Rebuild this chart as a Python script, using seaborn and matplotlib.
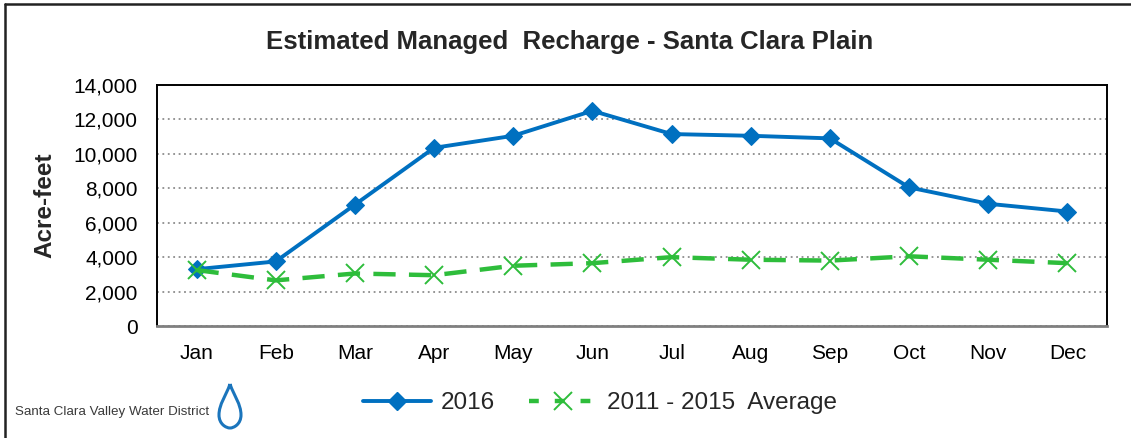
import matplotlib
matplotlib.use("Agg")
import matplotlib.pyplot as plt
from matplotlib.lines import Line2D
from matplotlib.path import Path
from matplotlib.patches import PathPatch
import numpy as np
import pandas as pd
import seaborn as sns

# Monthly managed recharge, acre-feet
months = ["Jan", "Feb", "Mar", "Apr", "May", "Jun",
          "Jul", "Aug", "Sep", "Oct", "Nov", "Dec"]
recharge_2016 = [3300, 3750, 7050, 10350, 11050, 12500,
                 11150, 11050, 10900, 8050, 7100, 6650]
recharge_avg = [3250, 2650, 3050, 2950, 3500, 3650,
                4000, 3850, 3800, 4050, 3850, 3650]
yticks = [0, 2000, 4000, 6000, 8000, 10000, 12000, 14000]

label_2016 = "2016"
label_avg = "2011 - 2015  Average"
blue = "#0070C0"
green = "#2EBD3B"

sns.set_theme(style="white")
plt.rcParams["font.family"] = ["Liberation Sans", "DejaVu Sans"]

df = pd.DataFrame({
    "idx": list(range(len(months))) * 2,
    "value": recharge_2016 + recharge_avg,
    "series": [label_2016] * len(months) + [label_avg] * len(months),
})

fig = plt.figure(figsize=(11.31, 4.38), dpi=100)
ax = fig.add_axes([157 / 1131, 1 - 326 / 438, 950 / 1131, 241 / 438])

sns.lineplot(data=df[df.series == label_2016], x="idx", y="value", ax=ax,
             color=blue, lw=2.8, marker="D", markersize=9.5,
             markeredgecolor=blue, legend=False)
sns.lineplot(data=df[df.series == label_avg], x="idx", y="value", ax=ax,
             color=green, lw=3.2, marker="x", markersize=13,
             markeredgewidth=1.4, markeredgecolor=green, legend=False)
ax.lines[1].set_dashes((5, 3))

ax.set_xlim(-0.5, len(months) - 0.5)
ax.set_ylim(0, 14000)
ax.set_xticks(range(len(months)))
ax.set_xticklabels(months)
ax.set_yticks(yticks)
ax.set_yticklabels([f"{v:,}" for v in yticks])
ax.tick_params(axis="both", length=0, labelsize=15, colors="#000000")
ax.tick_params(axis="y", pad=14)
ax.tick_params(axis="x", pad=13)
ax.set_xlabel("")
ax.set_ylabel("Acre-feet", fontsize=17.5, fontweight="bold", labelpad=12)

ax.yaxis.grid(True, linestyle=(0, (1, 2)), color="#8C8C8C", lw=1.3)
ax.set_axisbelow(True)
for side in ["left", "top", "right"]:
    ax.spines[side].set_color("#000000")
    ax.spines[side].set_linewidth(1.4)
ax.spines["bottom"].set_color("#808080")
ax.spines["bottom"].set_linewidth(2)

fig.text(570 / 1131, 1 - 42 / 438, "Estimated Managed  Recharge - Santa Clara Plain",
         ha="center", va="center", fontsize=18.5, fontweight="bold")

handles = [
    Line2D([], [], color=blue, lw=2.8, marker="D", markersize=9.5),
    Line2D([], [], color=green, lw=3.2, dashes=(2.2, 3.6), marker="x",
           markersize=13, markeredgewidth=1.4),
]
fig.legend(handles, [label_2016, label_avg], loc="center",
           bbox_to_anchor=(600 / 1131, 1 - 403 / 438), ncol=2, frameon=False,
           fontsize=17.5, handlelength=2.8, handletextpad=0.4, columnspacing=1.4)

# District logo: name and water drop
fig.text(15 / 1131, 1 - 412 / 438, "Santa Clara Valley Water District",
         ha="left", va="center", fontsize=9.6, color="#3A3A3A",
         family=["Liberation Sans Narrow", "Liberation Sans", "DejaVu Sans"])
cx, top, bot, r = 230, 384, 428, 11
drop = Path([(cx, top), (cx + 4, 396), (cx + r, 404), (cx + r, 415),
             (cx + r, 424), (cx + 4, bot), (cx, bot),
             (cx - 4, bot), (cx - r, 424), (cx - r, 415),
             (cx - r, 404), (cx - 4, 396), (cx, top)],
            [Path.MOVETO, Path.CURVE4, Path.CURVE4, Path.CURVE4,
             Path.CURVE4, Path.CURVE4, Path.CURVE4,
             Path.CURVE4, Path.CURVE4, Path.CURVE4,
             Path.CURVE4, Path.CURVE4, Path.CURVE4])
drop = drop.transformed(matplotlib.transforms.Affine2D().scale(1 / 1131, -1 / 438).translate(0, 1))
fig.patches.append(PathPatch(drop, transform=fig.transFigure, fill=False,
                             edgecolor="#1B75BC", lw=2.2))

# Outer frame along the top and left edges
fig.add_artist(Line2D([5 / 1131, 1], [1 - 4 / 438, 1 - 4 / 438],
                      transform=fig.transFigure, color="#222222", lw=1.8))
fig.add_artist(Line2D([5 / 1131, 5 / 1131], [0, 1 - 4 / 438],
                      transform=fig.transFigure, color="#222222", lw=1.8))

fig.savefig("out.png", dpi=100)
